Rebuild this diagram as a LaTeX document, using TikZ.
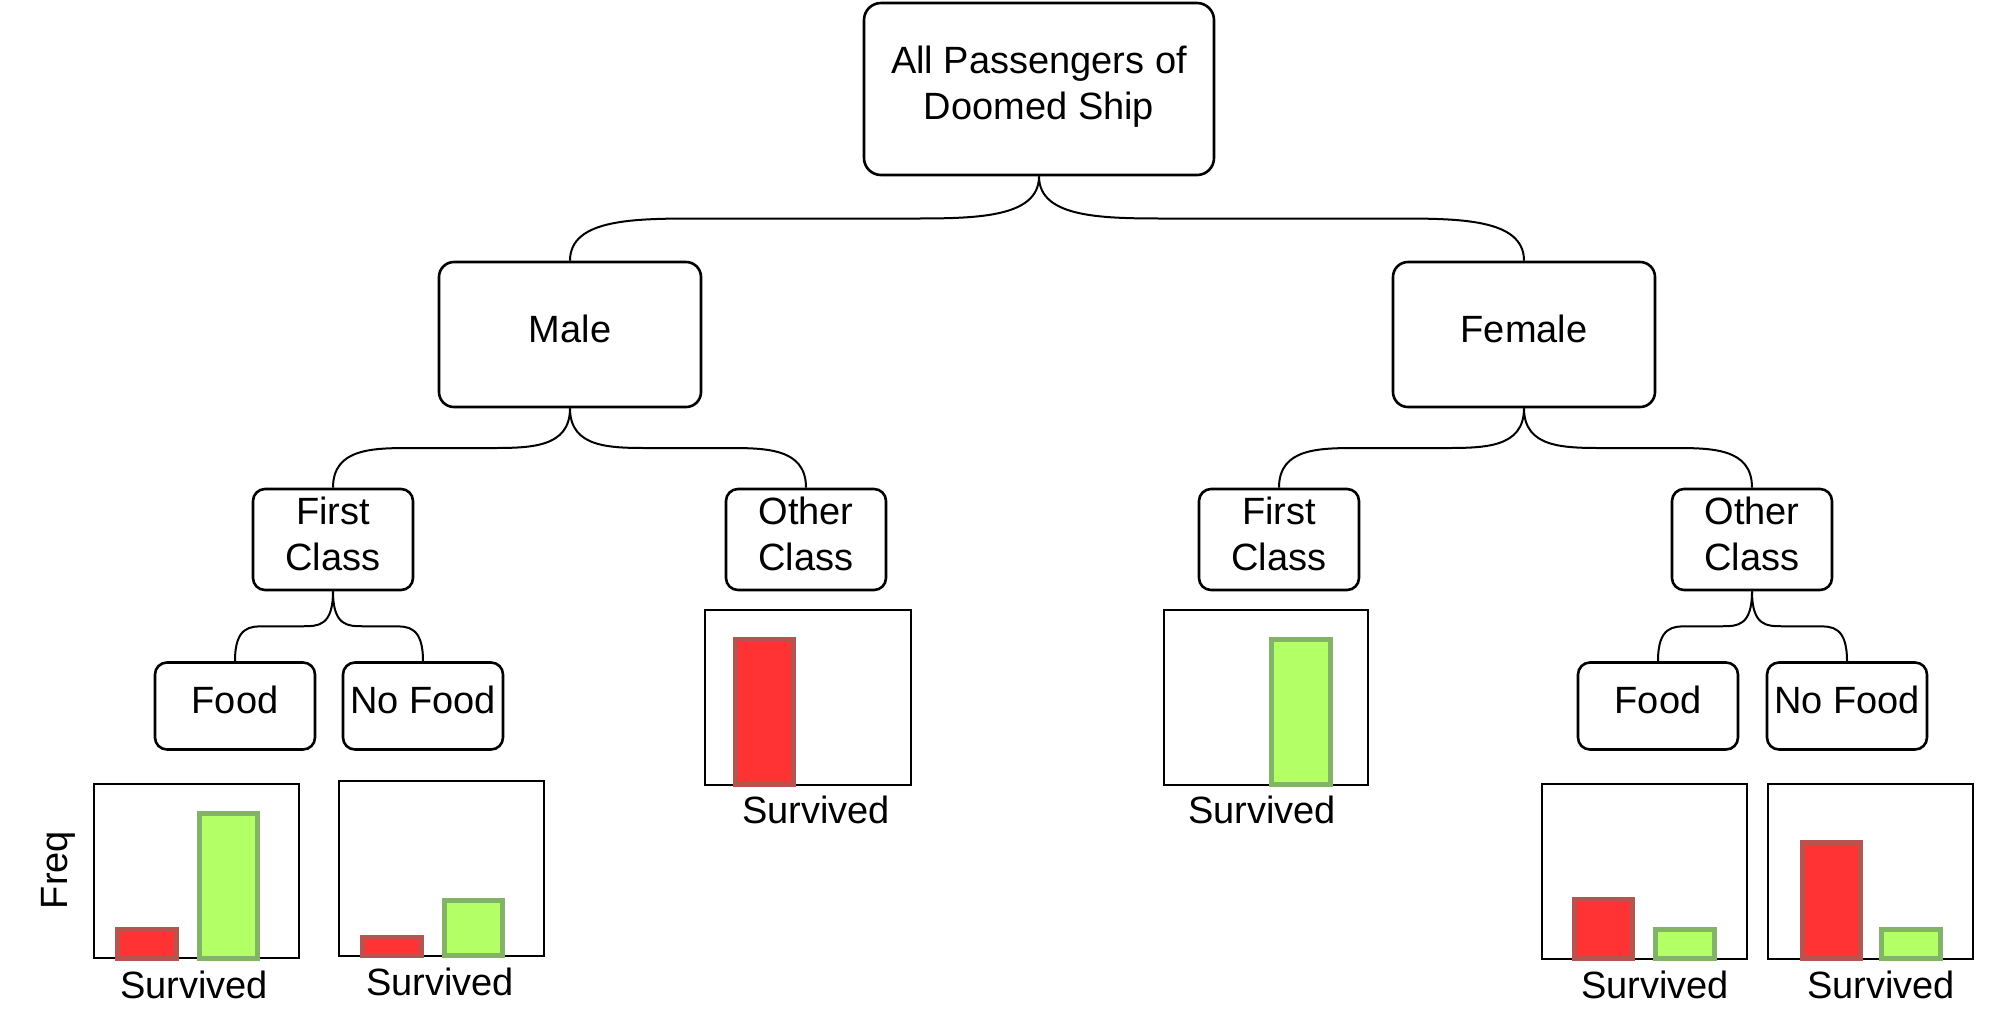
\documentclass[tikz,border=0pt]{standalone}
\usepackage{fontspec}
\setmainfont{Liberation Sans}
\usetikzlibrary{calc}

\definecolor{barred}{HTML}{FF3333}
\definecolor{barredline}{HTML}{B85450}
\definecolor{bargreen}{HTML}{B3FF66}
\definecolor{bargreenline}{HTML}{82B366}

\newcommand{\branch}[3]{%
	\coordinate (mid) at ($(#1.south)!0.5!(#2.north)$);
	\coordinate (k1) at (#1.south |- mid);
	\coordinate (k2) at (#2.north |- mid);
	\draw[link] (#1.south) .. controls (k1) and ($(k1)!#3/2!(k2)$) .. ($(k1)!#3!(k2)$)
		-- ($(k2)!#3!(k1)$) .. controls ($(k2)!#3/2!(k1)$) and (k2) .. (#2.north);
}

\begin{document}
\begin{tikzpicture}[x=0.5pt, y=-0.5pt,
	box/.style={draw, line width=1.3pt, rounded corners=6pt, align=center, inner sep=0pt,
		font=\fontsize{19}{23}\selectfont, execute at end node={\rule[-6pt]{0pt}{6pt}}},
	top/.style={box, minimum width=175pt, minimum height=86pt, rounded corners=8.5pt},
	sex/.style={box, minimum width=131pt, minimum height=72.5pt, rounded corners=7.5pt},
	cls/.style={box, minimum width=80pt, minimum height=50.5pt},
	food/.style={box, minimum width=80pt, minimum height=43.5pt},
	link/.style={line width=1pt},
	frame/.style={draw, line width=1.3pt},
	died/.style={fill=barred, draw=barredline, line width=2.5pt},
	lived/.style={fill=bargreen, draw=bargreenline, line width=2.5pt},
	lab/.style={font=\fontsize{19}{23}\selectfont, inner sep=0pt}]
	\useasboundingbox (0,0) rectangle (2003,1024);

	%Boksene plasseres her
	\node[top] (root) at (1039,89) {All Passengers of\\Doomed Ship};
	\node[sex] (male) at (570,334.5) {Male};
	\node[sex] (female) at (1524,334.5) {Female};
	\node[cls] (mfirst) at (333,539.5) {First\\Class};
	\node[cls] (mother) at (806,539.5) {Other\\Class};
	\node[cls] (ffirst) at (1279,539.5) {First\\Class};
	\node[cls] (fother) at (1752,539.5) {Other\\Class};
	\node[food] (mfood) at (235,706) {Food};
	\node[food] (mnofood) at (423,706) {No Food};
	\node[food] (ffood) at (1658,706) {Food};
	\node[food] (fnofood) at (1847,706) {No Food};

	%Greinene tegnes her
	\branch{root}{male}{65pt}
	\branch{root}{female}{65pt}
	\branch{male}{mfirst}{40pt}
	\branch{male}{mother}{40pt}
	\branch{female}{ffirst}{40pt}
	\branch{female}{fother}{40pt}
	\branch{mfirst}{mfood}{15pt}
	\branch{mfirst}{mnofood}{15pt}
	\branch{fother}{ffood}{15pt}
	\branch{fother}{fnofood}{15pt}

	%Diagrammene
	\draw[frame] (94,784) rectangle (299,958);
	\draw[frame] (339,781) rectangle (544,956);
	\draw[frame] (705,610) rectangle (911,785);
	\draw[frame] (1164,610) rectangle (1368,785);
	\draw[frame] (1542,784) rectangle (1747,959);
	\draw[frame] (1768,784) rectangle (1973,959);

	\draw[died] (117.5,929.5) rectangle (176.5,958.5);
	\draw[lived] (199.5,813.5) rectangle (257.5,958.5);
	\draw[died] (362.5,937.5) rectangle (421.5,955.5);
	\draw[lived] (444.5,900.5) rectangle (502.5,955.5);
	\draw[died] (735.5,639.5) rectangle (793.5,784.5);
	\draw[lived] (1271.5,639.5) rectangle (1330.5,784.5);
	\draw[died] (1574.5,899.5) rectangle (1632.5,958.5);
	\draw[lived] (1655.5,929.5) rectangle (1714.5,958.5);
	\draw[died] (1802.5,842.5) rectangle (1860.5,958.5);
	\draw[lived] (1881.5,929.5) rectangle (1940.5,958.5);

	\node[lab, rotate=90] (freq) at (58,870) {Freq};
	\node[lab] (surv1) at (194,985) {Survived};
	\node[lab] (surv2) at (440,982) {Survived};
	\node[lab] (surv3) at (816,810) {Survived};
	\node[lab] (surv4) at (1262,810) {Survived};
	\node[lab] (surv5) at (1655,985) {Survived};
	\node[lab] (surv6) at (1881,985) {Survived};
\end{tikzpicture}
\end{document}
